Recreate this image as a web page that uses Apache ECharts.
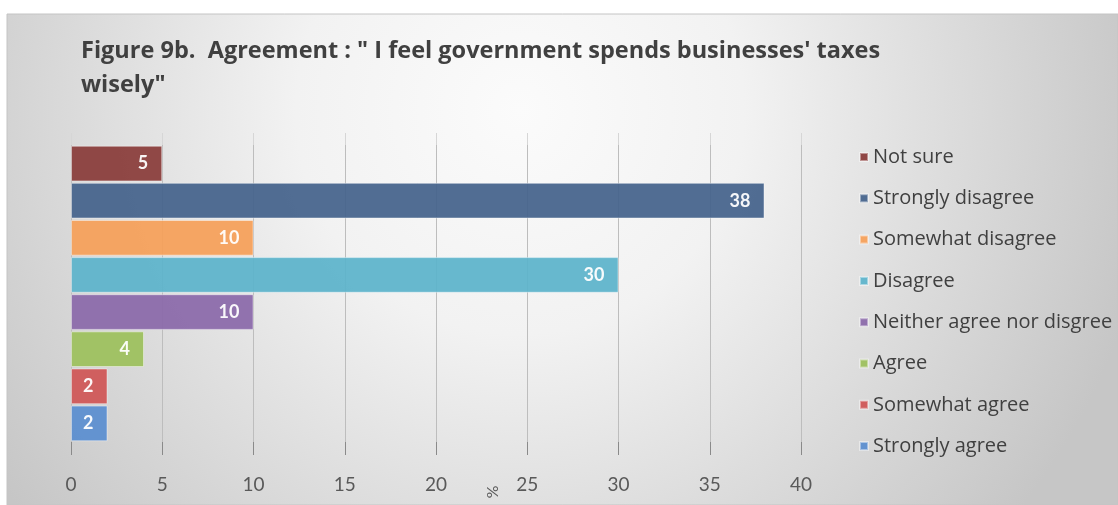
<!DOCTYPE html>
<html>
<head>
<meta charset="utf-8">
<script src="https://cdn.jsdelivr.net/npm/echarts@6/dist/echarts.min.js"></script>
<style>
  html, body { margin: 0; padding: 0; background: #ffffff; }
  #chart { width: 1118px; height: 505px; }
</style>
</head>
<body>
<div id="chart"></div>
<script>
// Response categories, top to bottom
const categories = [
  'Not sure', 'Strongly disagree', 'Somewhat disagree', 'Disagree',
  'Neither agree nor disgree', 'Agree', 'Somewhat agree', 'Strongly agree'
];
// Share of respondents (%)
const values = [5, 38, 10, 30, 10, 4, 2, 2];
const colors = ['#8a3e3c', '#46648c', '#f5a05a', '#5db4cb', '#8b6aaa', '#9dc05d', '#cf5757', '#5b8ecf'];
const xTicks = [0, 40, 5]; // min, max, step

const chart = echarts.init(document.getElementById('chart'), null, { renderer: 'canvas' });

const series = categories.map((name, i) => ({
  name: name,
  type: 'bar',
  stack: 'all',
  barCategoryGap: '4%',
  data: categories.map((c, j) => (j === i ? values[i] : null)),
  itemStyle: { color: colors[i], opacity: 0.94, borderColor: 'rgba(255,255,255,0.45)', borderWidth: 1 },
  label: {
    show: true, position: 'insideRight', distance: 14,
    color: '#ffffff', fontFamily: 'Lato', fontWeight: 'bold', fontSize: 18
  }
}));

chart.setOption({
  animation: false,
  color: colors,
  graphic: [
    {
      type: 'rect', silent: true, z: -10,
      shape: { x: 7, y: 14, width: 1111, height: 491 },
      style: {
        fill: {
          type: 'radial', x: 520, y: 110, r: 640, global: true,
          colorStops: [
            { offset: 0, color: '#fbfbfb' },
            { offset: 0.35, color: '#f2f2f2' },
            { offset: 1, color: '#c6c6c6' }
          ]
        },
        stroke: '#c4c4c4', lineWidth: 1
      }
    },
    {
      type: 'text', left: 81, top: 34, silent: true,
      style: {
        text: 'Figure 9b.  Agreement : " I feel government spends businesses\' taxes\nwisely"',
        fill: '#404040', font: 'bold 23.5px "Open Sans"', lineHeight: 34
      }
    },
    {
      type: 'text', x: 492, y: 492, rotation: -Math.PI / 2, silent: true,
      style: { text: '%', fill: '#595959', font: '16px Lato', align: 'center', verticalAlign: 'middle' }
    }
  ],
  legend: {
    orient: 'vertical', left: 854, top: 142,
    icon: 'rect', itemWidth: 8, itemHeight: 8, itemGap: 21.3,
    data: categories,
    textStyle: { color: '#404040', fontFamily: 'Open Sans', fontSize: 20, lineHeight: 20 }
  },
  grid: { left: 71, right: 317, top: 145, bottom: 63, containLabel: false },
  xAxis: [
    {
      type: 'value', min: xTicks[0], max: xTicks[1], interval: xTicks[2],
      axisLine: { show: false },
      axisTick: { show: true, length: 13, lineStyle: { color: '#8a8a8a' } },
      axisLabel: { margin: 33, color: '#595959', fontFamily: 'Lato', fontSize: 19 },
      splitLine: { show: true, lineStyle: { color: '#bdbdbd', width: 1 } }
    },
    {
      type: 'value', position: 'top', min: xTicks[0], max: xTicks[1], interval: xTicks[2],
      axisLine: { show: false },
      axisTick: { show: true, length: 12, lineStyle: { color: '#d6d6d6' } },
      axisLabel: { show: false },
      splitLine: { show: false }
    }
  ],
  yAxis: {
    type: 'category', data: categories, inverse: true,
    axisLine: { show: false }, axisTick: { show: false }, axisLabel: { show: false }
  },
  series: series
});
</script>
</body>
</html>
